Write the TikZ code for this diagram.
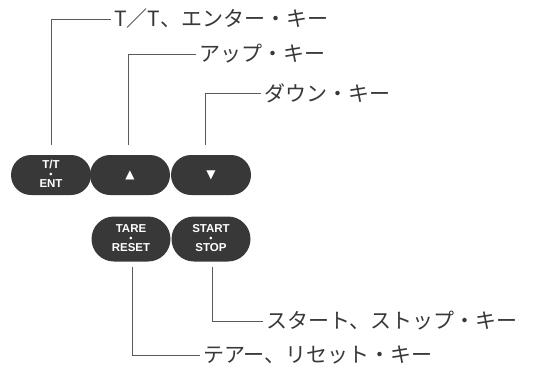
\documentclass[tikz,border=0pt]{standalone}
\usepackage{fontspec}
\newfontfamily\jp{Noto Sans CJK JP}
\newfontfamily\keyfont{Liberation Sans}
\newfontfamily\sym{DejaVu Sans}
\usetikzlibrary{shapes.misc,positioning}
\definecolor{keycol}{HTML}{383838}
\definecolor{linecol}{HTML}{5A5A5A}
\newcommand{\keylbl}[2]{\begin{tabular}{@{}c@{}}#1\\[-4.2pt]{\fontsize{9}{9}\selectfont •}\\[-4.2pt]#2\end{tabular}}
\tikzset{
  keybtn/.style={rounded rectangle, fill=keycol, draw=none, text=white,
    minimum height=40pt, minimum width=80pt, inner sep=0pt,
    font=\keyfont\bfseries\fontsize{11.5}{14}\selectfont, align=center},
  lbl/.style={anchor=west, inner sep=3pt, text=black!78, font=\jp\fontsize{21}{21}\selectfont},
  leader/.style={draw=linecol, line width=1pt}
}
\begin{document}
\begin{tikzpicture}[x=1pt,y=-1pt]
\useasboundingbox (0,0) rectangle (541,368);
% top keys
\node[keybtn] (k1) at (51,175) {\keylbl{T/T}{ENT}};
\node[keybtn] (k2) at (130,175) {{\sym\fontsize{12}{12}\selectfont ▲}};
\node[keybtn] (k3) at (211,175) {{\sym\fontsize{12}{12}\selectfont ▼}};
% bottom keys
\node[keybtn, minimum height=45pt, minimum width=79pt] (k4) at (131,239) {\keylbl{TARE}{RESET}};
\node[keybtn, minimum height=45pt, minimum width=79pt] (k5) at (211,239) {\keylbl{START}{STOP}};
% labels
\node[lbl] (t1) at (111,19) {T／T、エンター・キー};
\node[lbl] (t2) at (196,54) {アップ・キー};
\node[lbl] (t3) at (261,93) {ダウン・キー};
\node[lbl] (t5) at (263,321) {スタート、ストップ・キー};
\node[lbl] (t4) at (200,355) {テアー、リセット・キー};
% leader ends
\coordinate (c1) at (51,145);
\coordinate (c2) at (128,145);
\coordinate (c3) at (205,145);
\coordinate (c4) at (132,267);
\coordinate (c5) at (212,267);
\draw[leader] (c1) |- (t1.west);
\draw[leader] (c2) |- (t2.west);
\draw[leader] (c3) |- (t3.west);
\draw[leader] (c4) |- (t4.west);
\draw[leader] (c5) |- (t5.west);
\end{tikzpicture}
\end{document}
